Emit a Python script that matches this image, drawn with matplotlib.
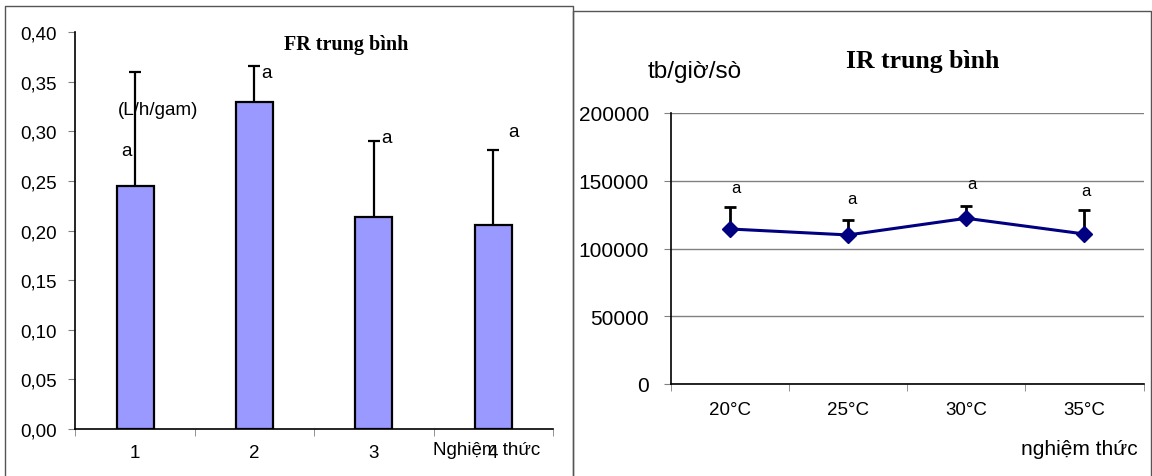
import matplotlib
matplotlib.use("Agg")
import matplotlib.pyplot as plt
from matplotlib.lines import Line2D

# FR chart (left)
fr_labels = ["1", "2", "3", "4"]
fr_mean = [0.245, 0.330, 0.214, 0.206]
fr_err = [0.115, 0.036, 0.076, 0.075]
fr_letters = ["a", "a", "a", "a"]

# IR chart (right)
ir_labels = ["20°C", "25°C", "30°C", "35°C"]
ir_mean = [114400, 110000, 122300, 110700]
ir_err = [16000, 11300, 9300, 17700]
ir_letters = ["a", "a", "a", "a"]

plt.rcParams['font.family'] = ['Liberation Sans', 'DejaVu Sans']
W, H = 1152, 477
fig = plt.figure(figsize=(W / 100, H / 100), dpi=100)


def px_box(x0, y0, x1, y1):
    # pixel box (top-left origin) -> figure fraction [left, bottom, width, height]
    return [x0 / W, 1 - y1 / H, (x1 - x0) / W, (y1 - y0) / H]


def frame(x0, y0, x1, y1):
    xs = [x0 / W, x0 / W, x1 / W, x1 / W]
    ys = [1 - y1 / H, 1 - y0 / H, 1 - y0 / H, 1 - y1 / H]
    fig.add_artist(Line2D(xs, ys, color='#555555', lw=1.0, transform=fig.transFigure))


frame(5, 7, 573, 490)
frame(573, 12, 1151, 490)

# ---------- left: FR bar chart ----------
ax1 = fig.add_axes(px_box(75.3, 33.3, 553, 430))
x = range(len(fr_mean))
ax1.bar(x, fr_mean, width=0.31, color='#9999FF', edgecolor='black', linewidth=1.6, zorder=2)
eb = ax1.errorbar(x, fr_mean, yerr=[[0] * 4, fr_err], fmt='none', ecolor='black',
                  elinewidth=1.6, capsize=4.3, capthick=1.6, zorder=3)
eb[1][0].set_visible(False)
ax1.set_xlim(-0.5, 3.5)
ax1.set_ylim(0, 0.40)
ax1.set_yticks([i * 0.05 for i in range(9)])
ax1.set_yticklabels([f"{i * 0.05:.2f}".replace('.', ',') for i in range(9)])
ax1.set_xticks(list(x))
ax1.set_xticklabels(fr_labels)
ax1.set_xticks([i - 0.5 for i in range(5)], minor=True)
ax1.tick_params(axis='x', which='major', length=0, pad=11, labelsize=13.5)
ax1.tick_params(axis='x', which='minor', length=5, color='#808080', direction='out')
ax1.tick_params(axis='y', length=5, color='#808080', pad=8, labelsize=13.5)
for s in ['top', 'right']:
    ax1.spines[s].set_visible(False)
for s in ['left', 'bottom']:
    ax1.spines[s].set_linewidth(1.2)

fr_letter_pos = [(-0.07, 0.2805), (1.10, 0.3595), (2.11, 0.294), (3.17, 0.2997)]
for (lx, ly), t in zip(fr_letter_pos, fr_letters):
    ax1.text(lx, ly, t, ha='center', va='center', fontsize=13.5)
ax1.text(-0.142, 0.3225, "(L/h/gam)", ha='left', va='center', fontsize=13.5)
fig.text(346 / W, 1 - 45 / H, "FR trung bình", ha='center', va='center',
         fontsize=14.5, fontweight='bold', family=['Liberation Serif', 'DejaVu Serif'])
fig.text(487 / W, 1 - 451 / H, "Nghiệm thức", ha='center', va='center', fontsize=13.5)

# ---------- right: IR line chart ----------
ax2 = fig.add_axes(px_box(671, 114, 1143.5, 385))
x2 = range(len(ir_mean))
ax2.plot(x2, ir_mean, color='#000080', lw=2.2, marker='D', markersize=8,
         markerfacecolor='#000080', markeredgecolor='#000080', zorder=4)
eb2 = ax2.errorbar(x2, ir_mean, yerr=[[0] * 4, ir_err], fmt='none', ecolor='black',
                   elinewidth=2.0, capsize=4.3, capthick=2.0, zorder=3)
eb2[1][0].set_visible(False)
ax2.set_xlim(-0.5, 3.5)
ax2.set_ylim(0, 200000)
ax2.set_yticks([0, 50000, 100000, 150000, 200000])
ax2.set_yticklabels(["0", "50000", "100000", "150000", "200000"])
ax2.yaxis.grid(True, color='#808080', lw=1.0)
ax2.set_axisbelow(True)
ax2.set_xticks(list(x2))
ax2.set_xticklabels(ir_labels)
ax2.set_xticks([i - 0.5 for i in range(5)], minor=True)
ax2.tick_params(axis='x', which='major', length=0, pad=12, labelsize=13.5)
ax2.tick_params(axis='x', which='minor', length=5, color='#808080', direction='out')
ax2.tick_params(axis='y', length=5, color='#808080', pad=11, labelsize=15)
for s in ['top', 'right']:
    ax2.spines[s].set_visible(False)
for s in ['left', 'bottom']:
    ax2.spines[s].set_linewidth(1.2)

ir_letter_pos = [(0.05, 144650), (1.03, 137050), (2.05, 148120), (3.01, 142650)]
for (lx, ly), t in zip(ir_letter_pos, ir_letters):
    ax2.text(lx, ly, t, ha='center', va='center', fontsize=12)
fig.text(695 / W, 1 - 71.7 / H, "tb/giờ/sò", ha='center', va='center', fontsize=17.5)
fig.text(923 / W, 1 - 61.7 / H, "IR trung bình", ha='center', va='center',
         fontsize=18.5, fontweight='bold', family=['Liberation Serif', 'DejaVu Serif'])
fig.text(1079.7 / W, 1 - 450 / H, "nghiệm thức", ha='center', va='center', fontsize=15)

fig.savefig("out.png", dpi=100)
